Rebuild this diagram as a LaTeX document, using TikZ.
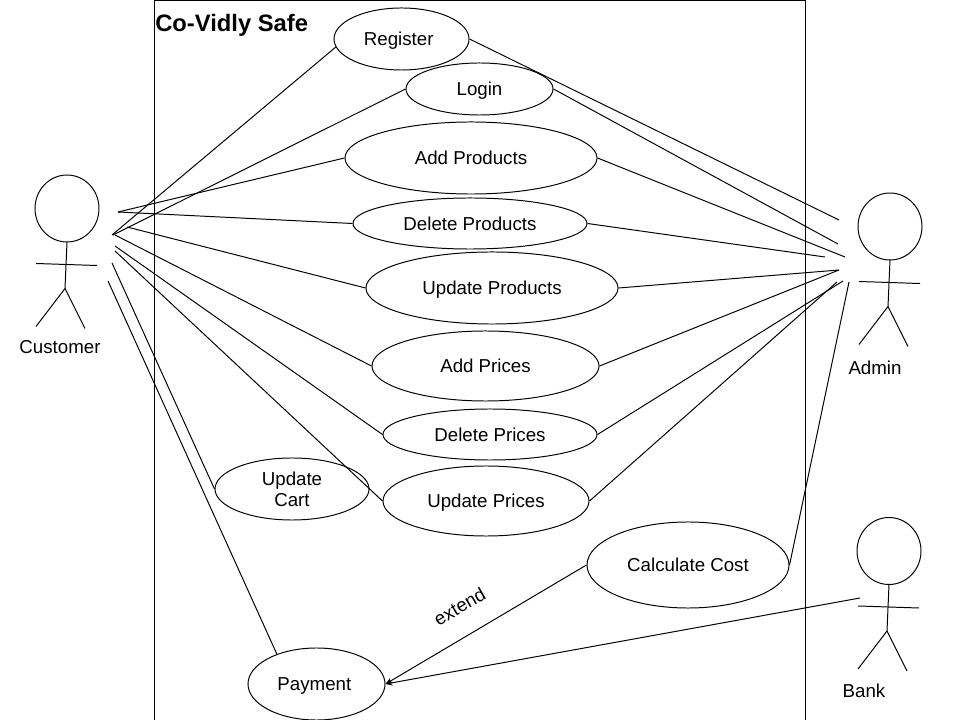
\documentclass[tikz,border=0pt]{standalone}
\usepackage{fontspec}
\setmainfont{Liberation Sans}
\usetikzlibrary{arrows.meta, shapes.geometric}
\tikzset{
  usecase/.style 2 args = {ellipse, draw, inner sep=0pt, align=center, line width=0.7pt,
                    minimum width={#1*0.05cm}, minimum height={#2*0.05cm},
                    text height=9.6pt, text depth=0pt,
                    font=\fontsize{13.3}{15}\selectfont},
  lbl/.style     = {font=\fontsize{13.3}{15}\selectfont, inner sep=0pt},
  link/.style    = {line width=0.7pt},
  extlink/.style = {line width=0.7pt, -{Stealth[length=5pt, width=4pt]}},
  actor/.pic     = {
    \draw[link] (0,0) circle [x radius=32, y radius=33.5];
    \draw[link] (0,33.5) -- (-2,80) -- (-31,118);
    \draw[link] (-2,80) -- (18,120);
    \draw[link] (-31,55) -- (30,57);
  },
}
\begin{document}
\begin{tikzpicture}[x=0.025cm, y=-0.025cm]
  \useasboundingbox (0,0) rectangle (960,720);
  % system boundary
  \draw[line width=0.85pt] (154.5,720) -- (154.5,0.5) -- (805.5,0.5) -- (805.5,720);
  \node[anchor=west, inner sep=0pt, font=\fontsize{16.9}{20}\selectfont\bfseries] (title) at (155,25) {Co-Vidly Safe};

  % use cases
  \node[usecase={67.5}{31}] (register) at (401.5,39) {Register\hspace{4pt}};
  \node[usecase={73.5}{26}] (login) at (479.5,89) {Login};
  \node[usecase={126}{36}] (addproducts) at (471,158) {Add Products};
  \node[usecase={117}{25.5}] (delproducts) at (470,223.5) {Delete Products};
  \node[usecase={126}{36}] (updproducts) at (492,288) {Update Products};
  \node[usecase={113.5}{35}] (addprices) at (485.5,366) {Add Prices};
  \node[usecase={107}{25.5}] (delprices) at (490,434.5) {Delete Prices};
  \node[usecase={103}{35}] (updprices) at (486,501) {Update Prices};
  \node[usecase={77}{31}, text height=, text depth=] (updcart) at (292,489) {Update\\Cart};
  \node[usecase={101}{43}] (calccost) at (688,565) {Calculate Cost};
  \node[usecase={68.5}{36}] (payment) at (316.5,684) {Payment\hspace{3pt}};

  % actors
  \pic at (67,208.5) {actor};
  \pic at (890,226.5) {actor};
  \pic at (889,551) {actor};
  \node[lbl] (customer) at (60,347) {Customer};
  \node[lbl] (admin) at (875,368) {Admin};
  \node[lbl] (bank) at (864,691) {Bank};

  % free ends next to the customer
  \coordinate (c1) at (112,235);
  \coordinate (c2) at (113,235);
  \coordinate (c3) at (118,212);
  \coordinate (c4) at (127,227);
  \coordinate (c5) at (115,235);
  \coordinate (c6) at (115,246);
  \coordinate (c7) at (115,251);
  \coordinate (c8) at (112,263);
  \coordinate (c9) at (108,281);
  \foreach \from/\uc in {c2/login, c3/addproducts, c3/delproducts, c4/updproducts,
                         c5/addprices, c6/delprices, c7/updprices, c8/updcart} {
    \draw[link] (\from) -- (\uc.west);
  }
  \draw[link] (c1) -- (register.187);
  \draw[link] (c9) -- (payment.143);

  % free ends next to the admin
  \coordinate (a1) at (839,220);
  \coordinate (a2) at (838,244);
  \coordinate (a3) at (845,257);
  \coordinate (a4) at (825,257);
  \coordinate (a5) at (839,270);
  \coordinate (a6) at (843,281);
  \coordinate (a7) at (837,282);
  \coordinate (a8) at (849,282);
  \foreach \from/\uc in {a1/register, a2/login, a3/addproducts, a4/delproducts, a5/updproducts,
                         a5/addprices, a6/delprices, a7/updprices, a8/calccost} {
    \draw[link] (\from) -- (\uc.east);
  }

  % payment arrows
  \coordinate (b1) at (860,598);
  \draw[extlink] (calccost.west) -- (payment.east);
  \draw[extlink] (b1) -- (payment.east);
  \node[lbl, rotate=30] (extend) at (459.5,606.5) {extend};
\end{tikzpicture}
\end{document}
